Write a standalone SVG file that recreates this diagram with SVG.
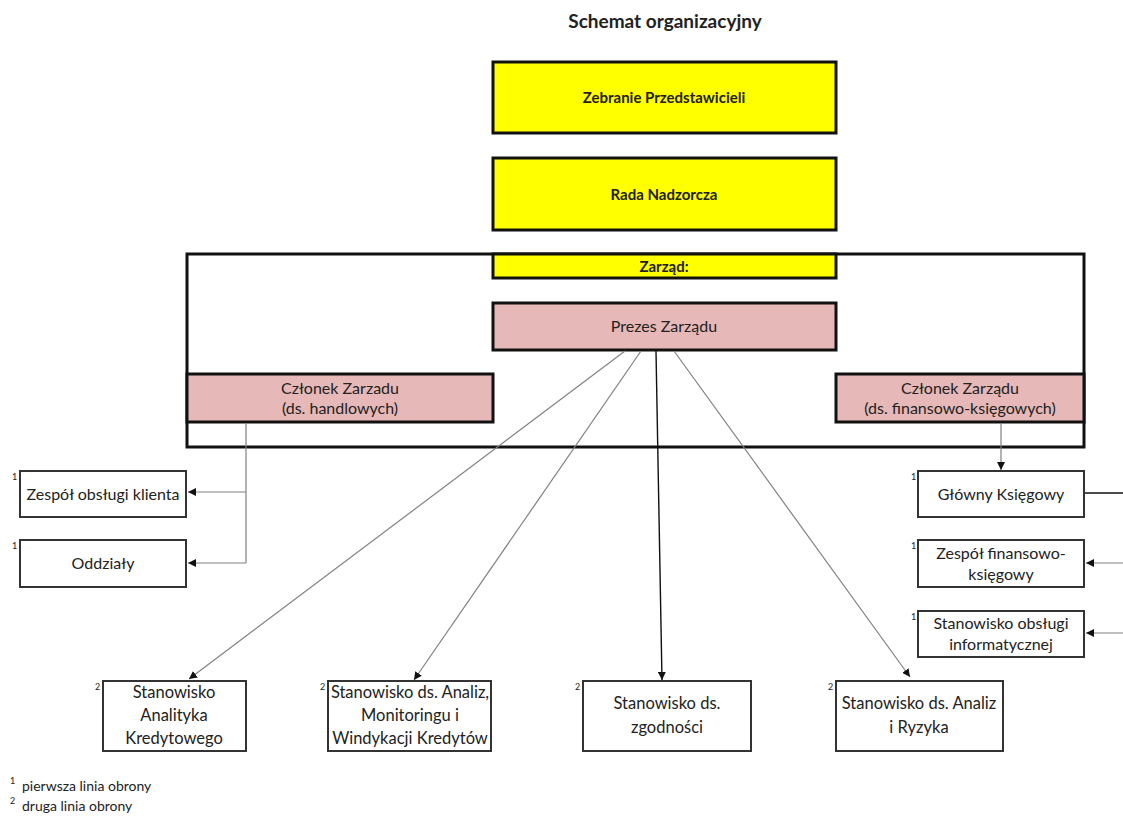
<svg xmlns="http://www.w3.org/2000/svg" width="1123" height="820" viewBox="0 0 1123 820">
<style>
text{font-family:Lato,"Open Sans",sans-serif;fill:#222;}
.t{font-size:16px;text-anchor:middle;}
.w{font-size:16.5px;text-anchor:middle;}
.b{font-weight:bold;font-size:15px;text-anchor:middle;}
.sup{font-size:9px;}
.leg{font-size:14px;}
.yel{fill:#ffff00;stroke:#111;stroke-width:3;}
.pink{fill:#e6b8b7;stroke:#111;stroke-width:3;}
.wb{fill:#fff;stroke:#333;stroke-width:2;}
.g{stroke:#808080;stroke-width:1.2;fill:none;}
.k{stroke:#111;stroke-width:1.4;fill:none;}
</style>
<defs>
<marker id="ah" viewBox="0 0 10 10" refX="10" refY="5" markerWidth="8" markerHeight="8" markerUnits="userSpaceOnUse" orient="auto"><path d="M0,0 L10,5 L0,10 z" fill="#111"/></marker>
</defs>
<rect width="1123" height="820" fill="#fff"/>
<text x="665" y="28" style="font-size:19px;font-weight:bold;text-anchor:middle">Schemat organizacyjny</text>

<g id="zarzad-container"><rect x="187" y="254" width="897" height="193" fill="none" stroke="#111" stroke-width="3"/></g>
<g id="zebranie"><rect class="yel" x="493" y="62" width="343" height="71"/><text class="b" x="664" y="103">Zebranie Przedstawicieli</text></g>
<g id="rada"><rect class="yel" x="493" y="158" width="343" height="72"/><text class="b" x="664" y="200">Rada Nadzorcza</text></g>
<g id="zarzad"><rect class="yel" x="493" y="254" width="343" height="24"/><text class="b" x="664" y="272">Zarząd:</text></g>
<g id="prezes"><rect class="pink" x="493" y="303" width="343" height="47"/><text class="t" x="664" y="332">Prezes Zarządu</text></g>
<g id="czlonek-handl"><rect class="pink" x="187" y="374" width="306" height="48"/><text class="t" x="340" y="394">Członek Zarzadu</text><text class="t" x="340" y="414">(ds. handlowych)</text></g>
<g id="czlonek-fin"><rect class="pink" x="836" y="374" width="248" height="48"/><text class="t" x="960" y="394">Członek Zarządu</text><text class="t" x="960" y="414">(ds. finansowo-księgowych)</text></g>

<g id="connectors">
<path class="g" d="M246,423 V563"/>
<path class="g" d="M246,492 H188" marker-end="url(#ah)"/>
<path class="g" d="M246,563 H188" marker-end="url(#ah)"/>
<path class="g" d="M1001,423 V470" marker-end="url(#ah)"/>
<path class="k" d="M1085,493 H1123"/>
<path class="g" d="M1123,563 H1086" marker-end="url(#ah)"/>
<path class="g" d="M1123,633 H1086" marker-end="url(#ah)"/>
<path class="g" d="M625,351 L189,679" marker-end="url(#ah)"/>
<path class="g" d="M641,351 L414,680" marker-end="url(#ah)"/>
<path class="k" d="M656,351 L662,680" marker-end="url(#ah)"/>
<path class="g" d="M674,351 L910,677" marker-end="url(#ah)"/>
</g>

<g id="zespol-klienta"><rect class="wb" x="20" y="471" width="166" height="46"/><text class="sup" x="12" y="480">1</text><text class="t" x="103" y="500">Zespół obsługi klienta</text></g>
<g id="oddzialy"><rect class="wb" x="20" y="540" width="166" height="47"/><text class="sup" x="12" y="549">1</text><text class="t" x="103" y="569">Oddziały</text></g>
<g id="glowny-ksiegowy"><rect class="wb" x="918" y="471" width="166" height="46"/><text class="sup" x="911" y="480">1</text><text class="t" x="1001" y="500">Główny Księgowy</text></g>
<g id="zespol-fin"><rect class="wb" x="918" y="540" width="166" height="47"/><text class="sup" x="911" y="549">1</text><text class="t" x="1001" y="559">Zespół finansowo-</text><text class="t" x="1001" y="580">księgowy</text></g>
<g id="stanowisko-it"><rect class="wb" x="918" y="611" width="166" height="46"/><text class="sup" x="911" y="620">1</text><text class="t" x="1001" y="629">Stanowisko obsługi</text><text class="t" x="1001" y="650">informatycznej</text></g>

<g id="analityk"><rect class="wb" x="103" y="681" width="143" height="70"/><text class="sup" x="95" y="690">2</text><text class="w" x="174" y="698">Stanowisko</text><text class="w" x="174" y="721">Analityka</text><text class="w" x="174" y="744">Kredytowego</text></g>
<g id="monitoring"><rect class="wb" x="328" y="681" width="163" height="70"/><text class="sup" x="320" y="690">2</text><text class="w" x="410" y="698">Stanowisko ds. Analiz,</text><text class="w" x="410" y="721">Monitoringu i</text><text class="w" x="410" y="744">Windykacji Kredytów</text></g>
<g id="zgodnosc"><rect class="wb" x="583" y="681" width="168" height="70"/><text class="sup" x="575" y="690">2</text><text class="w" x="667" y="709">Stanowisko ds.</text><text class="w" x="667" y="733">zgodności</text></g>
<g id="ryzyko"><rect class="wb" x="836" y="681" width="167" height="70"/><text class="sup" x="828" y="690">2</text><text class="w" x="919" y="709">Stanowisko ds. Analiz</text><text class="w" x="919" y="733">i Ryzyka</text></g>

<g id="legend">
<text class="sup" x="10" y="784">1</text><text class="leg" x="22" y="791">pierwsza linia obrony</text>
<text class="sup" x="10" y="804">2</text><text class="leg" x="22" y="811">druga linia obrony</text>
</g>
</svg>
